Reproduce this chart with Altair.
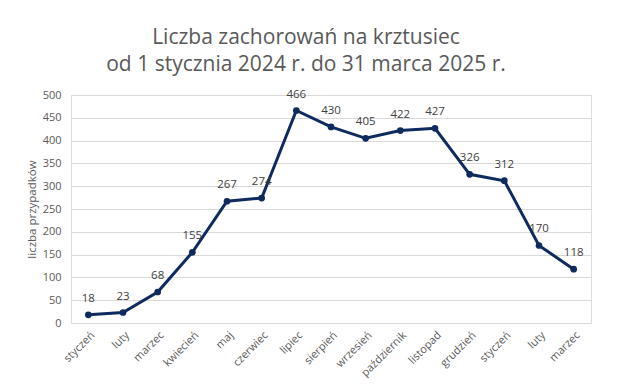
import altair as alt
import pandas as pd

months = ["styczeń", "luty", "marzec", "kwiecień", "maj", "czerwiec", "lipiec",
          "sierpień", "wrzesień", "październik", "listopad", "grudzień",
          "styczeń", "luty", "marzec"]
cases = [18, 23, 68, 155, 267, 274, 466, 430, 405, 422, 427, 326, 312, 170, 118]
y_ticks = [0, 50, 100, 150, 200, 250, 300, 350, 400, 450, 500]

df = pd.DataFrame({"idx": list(range(len(months))), "month": months, "cases": cases})

label_expr = "[" + ",".join("'%s'" % m for m in months) + "][datum.value]"

NAVY = "#0f2a5f"
GRAY = "#595959"
FONT = "Open Sans"

x = alt.X("idx:O", title=None,
          scale=alt.Scale(padding=0.5),
          axis=alt.Axis(labelExpr=label_expr, labelAngle=-45, labelColor=GRAY,
                        labelFontSize=11, labelFont=FONT, ticks=False, domain=False,
                        labelPadding=6, grid=False))
y = alt.Y("cases:Q", title="liczba przypadków",
          scale=alt.Scale(domain=[0, 500], nice=False),
          axis=alt.Axis(values=y_ticks, labelColor=GRAY, labelFontSize=11, labelFont=FONT,
                        ticks=False, domain=False, gridColor="#d9d9d9",
                        titleColor=GRAY, titleFontSize=11.5, titleFont=FONT,
                        titleFontWeight="normal", labelPadding=10, titlePadding=5))

base = alt.Chart(df)
line = base.mark_line(color=NAVY, strokeWidth=3).encode(x=x, y=y)
pts = base.mark_circle(color=NAVY, size=45, opacity=1).encode(x=x, y=y)
txt = base.mark_text(dy=-16, fontSize=11.5, font=FONT, color="#404040").encode(
    x=x, y=y, text="cases:Q")

chart = (line + pts + txt).properties(
    width=520, height=228,
    title=alt.TitleParams(
        text=["Liczba zachorowań na krztusiec", "od 1 stycznia 2024 r. do 31 marca 2025 r."],
        font=FONT, fontSize=21, fontWeight="normal", color=GRAY, anchor="middle",
        lineHeight=27, offset=14, dx=-25),
    padding={"left": 63, "top": 87, "right": 16, "bottom": 58},
).configure_view(strokeWidth=0).configure(
    autosize=alt.AutoSizeParams(type="none"))

chart.save("out.html", embed_options={"renderer": "svg", "actions": False})
